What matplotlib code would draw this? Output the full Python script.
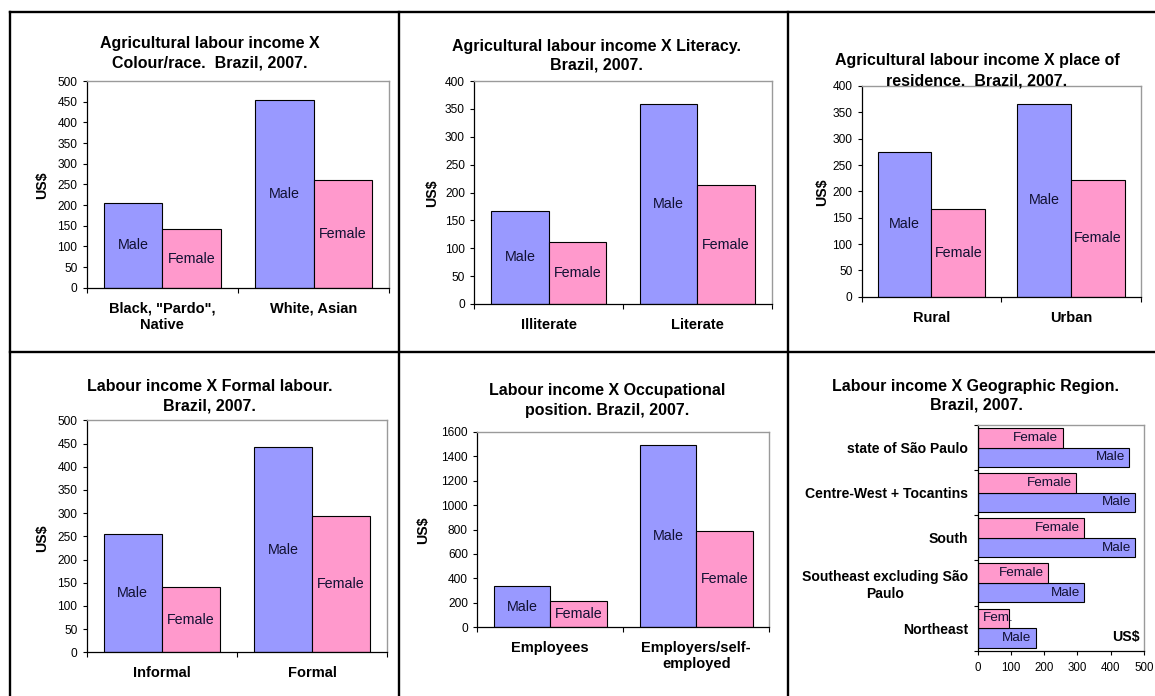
import matplotlib
matplotlib.use("Agg")
import matplotlib.pyplot as plt
from matplotlib.lines import Line2D
import numpy as np

plt.rcParams['font.family'] = ['Liberation Sans', 'DejaVu Sans']

# ---- data (US$) ----
race_cats = ['Black, "Pardo",\nNative', 'White, Asian']
race_male = [206, 454]
race_female = [141, 260]

lit_cats = ['Illiterate', 'Literate']
lit_male = [167, 358]
lit_female = [112, 213]

res_cats = ['Rural', 'Urban']
res_male = [275, 366]
res_female = [167, 221]

formal_cats = ['Informal', 'Formal']
formal_male = [256, 442]
formal_female = [140, 293]

occ_cats = ['Employees', 'Employers/self-\nemployed']
occ_male = [334, 1495]
occ_female = [211, 785]

region_cats = ['Northeast', 'Southeast excluding São\nPaulo', 'South',
               'Centre-West + Tocantins', 'state of São Paulo']
region_male = [174, 320, 474, 474, 455]
region_female = [93, 211, 320, 297, 255]
region_female_labels = ['Fem.', 'Female', 'Female', 'Female', 'Female']

titles = [
    'Agricultural labour income X\nColour/race.  Brazil, 2007.',
    'Agricultural labour income X Literacy.\nBrazil, 2007.',
    'Agricultural labour income X place of\nresidence.  Brazil, 2007.',
    'Labour income X Formal labour.\nBrazil, 2007.',
    'Labour income X Occupational\nposition. Brazil, 2007.',
    'Labour income X Geographic Region.\nBrazil, 2007.',
]

MALE_C = '#9999FF'
FEMALE_C = '#FF99CC'
FRAME_C = '#9a9a9a'

W, H = 1155, 696
fig = plt.figure(figsize=(W / 100, H / 100), dpi=100)
fig.patch.set_facecolor('white')


def fx(x):
    return x / W


def fy(y):
    return 1 - y / H


def add_axes_px(l, t, r, b):
    return fig.add_axes([fx(l), fy(b), (r - l) / W, (b - t) / H])


def draw_title(text, cx, first_y, step=19.5):
    # each title line is placed on its own so the block keeps a fixed leading
    for i, line in enumerate(text.split('\n')):
        fig.text(fx(cx), fy(first_y + i * step), line, ha='center', va='center',
                 fontsize=11.5, fontweight='bold')


def style_frame(ax):
    for s in ('top', 'right'):
        ax.spines[s].set_color(FRAME_C)
        ax.spines[s].set_linewidth(1.0)
    for s in ('left', 'bottom'):
        ax.spines[s].set_color('black')
        ax.spines[s].set_linewidth(0.9)


def column_panel(rect, cats, male, female, ymax, ystep, title, tpos, ylab_pos):
    ax = add_axes_px(*rect)
    x = np.arange(len(cats))
    w = 0.386
    bm = ax.bar(x - w / 2, male, w, color=MALE_C, edgecolor='black', linewidth=0.8)
    bf = ax.bar(x + w / 2, female, w, color=FEMALE_C, edgecolor='black', linewidth=0.8)
    for bars, vals, lab in ((bm, male, 'Male'), (bf, female, 'Female')):
        for b, v in zip(bars, vals):
            ax.text(b.get_x() + b.get_width() / 2, v / 2, lab, ha='center',
                    va='center', fontsize=10.3, color='#111133')
    ax.set_xlim(-0.5, len(cats) - 0.5)
    ax.set_ylim(0, ymax)
    ax.set_yticks(np.arange(0, ymax + 1, ystep))
    ax.tick_params(axis='y', direction='out', length=3, width=0.8, pad=3.8,
                   labelsize=8.6, colors='black')
    ax.set_xticks(x)
    ax.set_xticklabels(cats, fontsize=10.5, fontweight='bold')
    ax.tick_params(axis='x', which='major', length=0, pad=10)
    ax.set_xticks(np.arange(-0.5, len(cats), 1.0), minor=True)
    ax.tick_params(axis='x', which='minor', direction='out', length=3.6, width=0.8)
    style_frame(ax)
    draw_title(title, tpos[0], tpos[1])
    fig.text(fx(ylab_pos[0]), fy(ylab_pos[1]), 'US$', rotation=90, ha='center',
             va='center', fontsize=10.2, fontweight='bold')
    return ax


column_panel((86.7, 81, 389.3, 287.7), race_cats, race_male, race_female, 500, 50,
             titles[0], (210, 43.5), (41.7, 185))
column_panel((474.3, 81, 771.7, 304), lit_cats, lit_male, lit_female, 400, 50,
             titles[1], (596, 46), (431.7, 193))
column_panel((861.7, 86, 1140.7, 296.7), res_cats, res_male, res_female, 400, 50,
             titles[2], (977, 61), (821.7, 192))
column_panel((86.7, 420.3, 387.3, 652.3), formal_cats, formal_male, formal_female, 500, 50,
             titles[3], (209.7, 386.7), (41.7, 538))
column_panel((477.3, 432, 769.3, 627), occ_cats, occ_male, occ_female, 1600, 200,
             titles[4], (607, 391), (423, 530))

# ---- horizontal bar panel: geographic region ----
ax = add_axes_px(977.7, 425, 1144, 650.7)
y = np.arange(len(region_cats))
h = 0.432
bm = ax.barh(y - h / 2, region_male, h, color=MALE_C, edgecolor='black', linewidth=0.8)
bf = ax.barh(y + h / 2, region_female, h, color=FEMALE_C, edgecolor='black', linewidth=0.8)
for b, v in zip(bm, region_male):
    ax.annotate('Male', (v, b.get_y() + b.get_height() / 2), xytext=(-3, 0),
                textcoords='offset points', ha='right', va='center',
                fontsize=9.7, color='#111133')
for b, v, lab in zip(bf, region_female, region_female_labels):
    if v < 120:
        ax.annotate(lab, (0, b.get_y() + b.get_height() / 2), xytext=(4, 0),
                    textcoords='offset points', ha='left', va='center',
                    fontsize=9.7, color='#111133')
    else:
        ax.annotate(lab, (v, b.get_y() + b.get_height() / 2), xytext=(-3, 0),
                    textcoords='offset points', ha='right', va='center',
                    fontsize=9.7, color='#111133')
ax.set_ylim(-0.5, len(region_cats) - 0.5)
ax.set_xlim(0, 500)
ax.set_xticks(np.arange(0, 501, 100))
ax.tick_params(axis='x', direction='out', length=3, width=0.8, pad=5,
               labelsize=8.3)
ax.set_yticks(y)
ax.set_yticklabels(region_cats, fontsize=10.1, fontweight='bold')
for t in ax.get_yticklabels():
    t.set_multialignment('center')
ax.tick_params(axis='y', which='major', length=0, pad=7)
ax.set_yticks(np.arange(-0.5, len(region_cats), 1.0), minor=True)
ax.tick_params(axis='y', which='minor', direction='out', length=2.7, width=0.8)
style_frame(ax)
ax.text(0.975, 0.06, 'US$', transform=ax.transAxes, ha='right', va='center',
        fontsize=10.2, fontweight='bold')
draw_title(titles[5], 976, 386.7, step=18.3)

# ---- table grid around the panels ----
lw = 1.7
grid_lines = [
    ((9.5, 12), (9.5, 696)),
    ((398.5, 12), (398.5, 696)),
    ((788.3, 12), (788.3, 696)),
    ((9.5, 12), (1155, 12)),
    ((9.5, 351.5), (1155, 351.5)),
]
for (x0, y0), (x1, y1) in grid_lines:
    fig.add_artist(Line2D([fx(x0), fx(x1)], [fy(y0), fy(y1)], color='black',
                          linewidth=lw, transform=fig.transFigure))

fig.savefig('out.png', dpi=100)
